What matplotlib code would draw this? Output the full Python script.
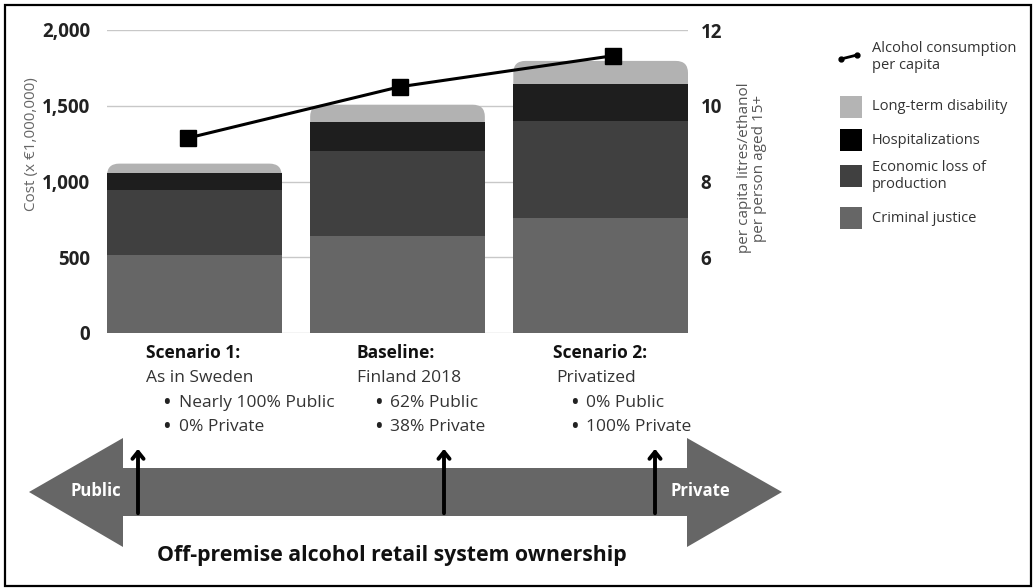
import matplotlib
matplotlib.use("Agg")
import matplotlib.pyplot as plt
from matplotlib.patches import FancyBboxPatch, Polygon, Rectangle, FancyArrowPatch
import numpy as np

plt.rcParams["font.family"] = ["Open Sans", "DejaVu Sans"]

# data
scenarios = ["Scenario 1", "Baseline", "Scenario 2"]
criminal_justice = [513, 638, 757]
economic_loss = [428, 566, 644]
hospitalizations = [118, 191, 244]
long_term_disability = [59, 112, 151]
consumption = [9.15, 10.5, 11.32]
consumption_x = [-0.03, 1.01, 2.06]   # markers sit a bit off the bar centres

seg_labels = ["Criminal justice", "Economic loss of\nproduction", "Hospitalizations", "Long-term disability"]
seg_colors = ["#666666", "#404040", "#1e1e1e", "#b2b2b2"]

W, H = 1033, 588
fig = plt.figure(figsize=(W / 100, H / 100), dpi=100)

# overlay axes in pixel coordinates for annotations
ov = fig.add_axes([0, 0, 1, 1], zorder=0)
ov.set_xlim(0, W)
ov.set_ylim(H, 0)
ov.axis("off")

ax = fig.add_axes([107 / W, (H - 333) / H, 581 / W, 303 / H], zorder=2)
ax.patch.set_visible(False)
x = np.arange(len(scenarios))
bw = 0.86

totals = np.array(criminal_justice) + np.array(economic_loss) + np.array(hospitalizations) + np.array(long_term_disability)
# top segment with rounded corners, drawn full height and covered by the lower segments
for xi, tot in zip(x, totals):
    p = FancyBboxPatch((xi - bw / 2, 0), bw, tot, boxstyle="round,pad=0,rounding_size=0.06",
                       mutation_aspect=1320, fc=seg_colors[3], ec="none", zorder=2)
    ax.add_patch(p)
bottom = np.zeros(3)
for vals, col in zip([criminal_justice, economic_loss, hospitalizations], seg_colors[:3]):
    ax.bar(x, vals, bw, bottom=bottom, color=col, zorder=3, linewidth=0)
    bottom += np.array(vals)

ax.set_xlim(-bw / 2, 2 + bw / 2)
ax.set_ylim(0, 2000)
ax.set_yticks([0, 500, 1000, 1500, 2000])
ax.set_yticklabels(["0", "500", "1,000", "1,500", "2,000"], fontweight="bold", fontsize=13.5, color="#222222")
ax.set_xticks([])
ax.tick_params(axis="y", length=0, pad=12)
ax.grid(axis="y", color="#c8c8c8", lw=1, zorder=0)
for s in ax.spines.values():
    s.set_visible(False)

ax2 = ax.twinx()
ax2.set_zorder(3)
ax2.plot(consumption_x, consumption, color="black", lw=2.2, marker="s", markersize=11, zorder=5)
ax2.set_ylim(4, 12)
ax2.set_yticks([6, 8, 10, 12])
ax2.set_yticklabels(["6", "8", "10", "12"], fontweight="bold", fontsize=13.5, color="#222222")
ax2.tick_params(axis="y", length=0, pad=9)
for s in ax2.spines.values():
    s.set_visible(False)

# axis titles
ov.text(32, 144, "Cost (x €1,000,000)", rotation=90, ha="center", va="center", fontsize=11, color="#666666")
ov.text(752, 168, "per capita litres/ethanol\nper person aged 15+", rotation=90, ha="center", va="center",
        fontsize=11, color="#555555", linespacing=1.05)

# legend
ov.plot([841, 857], [59, 55], color="black", lw=2, marker="o", markersize=3.5)
ov.text(872, 57, "Alcohol consumption\nper capita", va="center", ha="left", fontsize=10.5, color="#333333",
        linespacing=1.15)
leg_items = [("Long-term disability", "#b4b4b4", 107), ("Hospitalizations", "#000000", 140),
             ("Economic loss of\nproduction", "#404040", 176), ("Criminal justice", "#666666", 218)]
for lab, col, yc in leg_items:
    ov.add_patch(Rectangle((840, yc - 11), 22, 22, fc=col, ec="none"))
    ov.text(872, yc, lab, va="center", ha="left", fontsize=10.5, color="#333333", linespacing=1.15)

# scenario descriptions
desc = [(146, 163, "Scenario 1:", "As in Sweden", ["Nearly 100% Public", "0% Private"]),
        (357, 374, "Baseline:", "Finland 2018", ["62% Public", "38% Private"]),
        (553, 570, "Scenario 2:", "Privatized", ["0% Public", "100% Private"])]
for x0, xb, title, sub, bullets in desc:
    ov.text(x0, 353, title, fontweight="bold", fontsize=12.5, color="#111111", va="center")
    ov.text(x0 + (3 if title.startswith("Scenario 2") else 0), 378, sub, fontsize=12.5, color="#333333", va="center")
    for i, b in enumerate(bullets):
        ov.text(xb + 4, 403 + 24 * i, "•", fontsize=13, fontweight="bold", color="#222222", va="center", ha="center")
        ov.text(xb + 16, 403 + 24 * i, b, fontsize=12.5, color="#333333", va="center")

# double-headed arrow
arrow = Polygon([(29, 492), (123, 438), (123, 468), (687, 468), (687, 438), (782, 492),
                 (687, 547), (687, 516), (123, 516), (123, 547)], closed=True, fc="#666666", ec="none")
ov.add_patch(arrow)
ov.text(96, 491, "Public", color="white", fontweight="bold", fontsize=12, ha="center", va="center")
ov.text(700, 491, "Private", color="white", fontweight="bold", fontsize=12, ha="center", va="center")
for xa in [138, 444, 655]:
    ov.add_patch(FancyArrowPatch((xa, 516), (xa, 446), arrowstyle="->,head_length=5,head_width=4",
                                 lw=2.8, color="black", mutation_scale=1))
ov.text(392, 556, "Off-premise alcohol retail system ownership", fontweight="bold", fontsize=15.3,
        ha="center", va="center", color="#111111")

# frame
ov.add_patch(Rectangle((5, 5), 1026, 581, fill=False, ec="black", lw=1.6))

fig.savefig("out.png", dpi=100)
